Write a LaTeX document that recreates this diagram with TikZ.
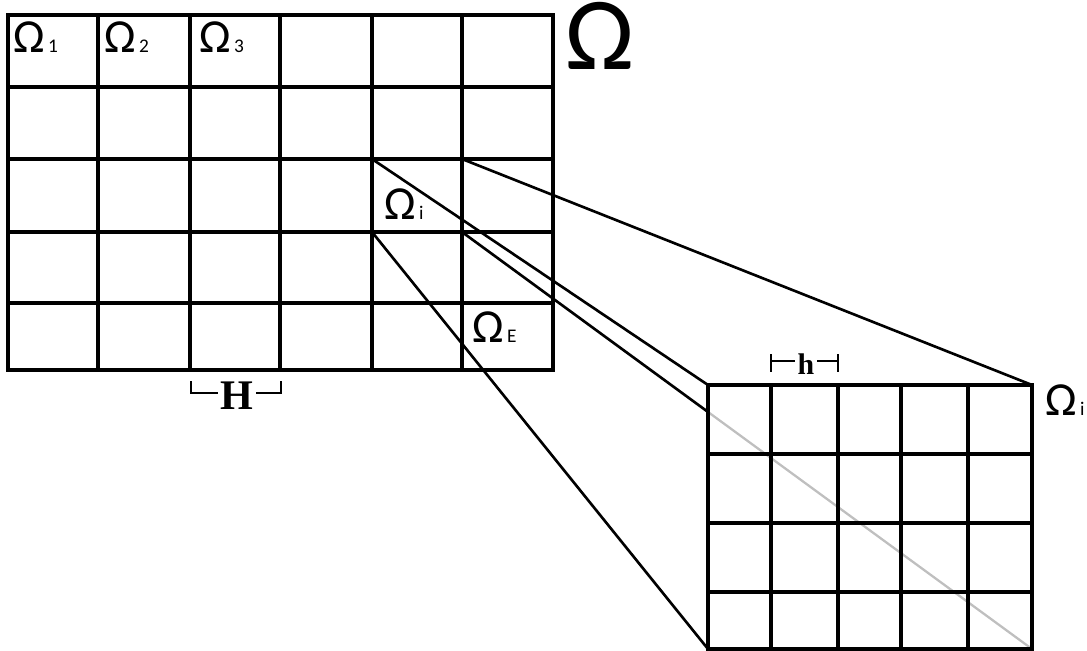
\documentclass[tikz,border=0pt]{standalone}
\usepackage{fontspec}
\setmainfont{Carlito}
\newfontfamily\serifbold[BoldFont={Liberation Serif Bold}]{Liberation Serif}
\usetikzlibrary{calc}

% Omega with a small subscript on its baseline
\newcommand\omsub[1]{Ω{\fontsize{11}{11}\selectfont\,#1}}

\begin{document}
\begin{tikzpicture}[x=0.02cm,y=-0.02cm,line cap=rect,
  grid/.style={line width=1.9pt},
  proj/.style={line width=1.5pt},
  omlab/.style={font=\fontsize{27}{27}\selectfont,inner sep=0pt,text height=0.6em,anchor=base west},
  dimlab/.style={font=\serifbold\bfseries,inner sep=0pt,anchor=base}]
\useasboundingbox (0,0) rectangle (1087,651);
% coarse grid
\foreach \x in {8,98,190,280,372,462,553} \draw[grid] (\x,15) -- (\x,370);
\foreach \y in {15,87,159,232,303,370} \draw[grid] (8,\y) -- (553,\y);
% corners of the chosen subdomain and of its zoom
\coordinate (Oi-nw) at (372,159); \coordinate (Oi-ne) at (462,159);
\coordinate (Oi-sw) at (372,232); \coordinate (Oi-se) at (462,232);
\coordinate (zoom-nw) at (708,385); \coordinate (zoom-ne) at (1032,385);
\coordinate (zoom-sw) at (708,649); \coordinate (zoom-se) at (1032,649);
\coordinate (cut) at (intersection of Oi-se--zoom-se and zoom-nw--zoom-sw);
% diagonal seen through the fine grid
\draw[line width=1.3pt,black!25] (cut) -- (zoom-se);
% fine grid
\foreach \x in {708,771,838,901,968,1032} \draw[grid] (\x,385) -- (\x,649);
\foreach \y in {385,454,523,592,649} \draw[grid] (708,\y) -- (1032,\y);
% projection lines
\draw[proj] (Oi-nw) -- (zoom-nw);
\draw[proj] (Oi-ne) -- (zoom-ne);
\draw[proj] (Oi-sw) -- (zoom-sw);
\draw[proj] (Oi-se) -- (cut);
% labels
\node[omlab] (om1) at (13,53) {\omsub{1}};
\node[omlab] (om2) at (104,53) {\omsub{2}};
\node[omlab] (om3) at (199,53) {\omsub{3}};
\node[omlab] (omi) at (384,220) {\omsub{i}};
\node[omlab] (omE) at (472,342) {\omsub{E}};
\node[omlab] (omzoom) at (1045,415) {\omsub{i}};
\node[omlab,font=\fontsize{59}{59}\selectfont] (om) at (565,70) {Ω};
% coarse size H
\node[dimlab,font=\serifbold\bfseries\fontsize{24}{24}\selectfont] (H) at (237,409) {H};
\coordinate (H-l) at (191,393); \coordinate (H-r) at (281,393);
\draw[line width=1.4pt] (191,382) -- (H-l) -- ([xshift=-2]H.west|-H-l);
\draw[line width=1.4pt] (281,382) -- (H-r) -- ([xshift=2]H.east|-H-r);
% fine size h
\node[dimlab,font=\serifbold\bfseries\fontsize{17}{17}\selectfont] (h) at (806,375) {h};
\coordinate (h-l) at (771,361); \coordinate (h-r) at (838,361);
\draw[line width=1.4pt] (771,355) -- (771,371) (h-l) -- ([xshift=-2]h.west|-h-l);
\draw[line width=1.4pt] (838,355) -- (838,371) (h-r) -- ([xshift=2]h.east|-h-r);
\end{tikzpicture}
\end{document}
